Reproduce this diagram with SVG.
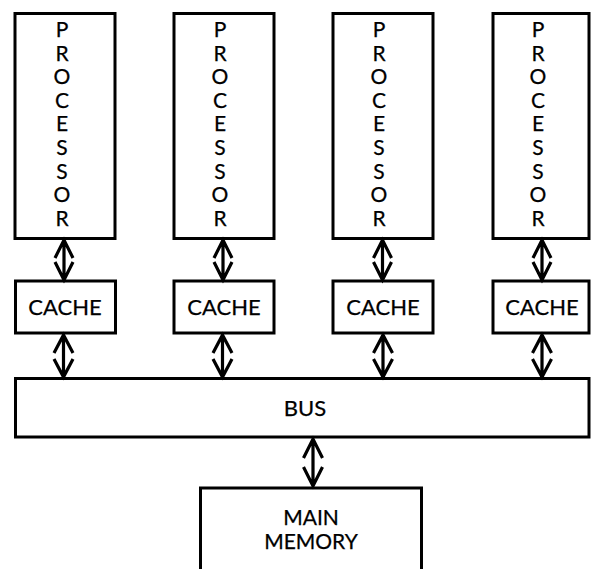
<svg xmlns="http://www.w3.org/2000/svg" width="591" height="569" viewBox="0 0 591 569">
  <defs>
    <style>
      .box { fill: #fff; stroke: #000; stroke-width: 3; }
      .lbl { font-family: Lato, "Liberation Sans", sans-serif; font-size: 22px; fill: #000; stroke: #000; stroke-width: 0.25; text-anchor: middle; }
      .mem { font-size: 21px; }
      .vl { font-family: Lato, "Liberation Sans", sans-serif; font-size: 21px; fill: #000; stroke: #000; stroke-width: 0.25; text-anchor: middle; }
      .link { fill: none; stroke: #000; stroke-width: 3.2; stroke-linejoin: miter; }
    </style>
  </defs>
  <rect width="591" height="569" fill="#fff"/>

  <!-- processors -->
  <g id="processor-1">
    <rect class="box" x="15" y="13.5" width="100" height="225"/>
    <text class="vl" x="62"><tspan x="62" y="37">P</tspan><tspan x="62" y="60.6">R</tspan><tspan x="62" y="84.2">O</tspan><tspan x="62" y="107.8">C</tspan><tspan x="62" y="131.4">E</tspan><tspan x="62" y="155">S</tspan><tspan x="62" y="178.6">S</tspan><tspan x="62" y="202.2">O</tspan><tspan x="62" y="225.8">R</tspan></text>
  </g>
  <g id="processor-2">
    <rect class="box" x="174" y="13.5" width="100" height="225"/>
    <text class="vl" x="220"><tspan x="220" y="37">P</tspan><tspan x="220" y="60.6">R</tspan><tspan x="220" y="84.2">O</tspan><tspan x="220" y="107.8">C</tspan><tspan x="220" y="131.4">E</tspan><tspan x="220" y="155">S</tspan><tspan x="220" y="178.6">S</tspan><tspan x="220" y="202.2">O</tspan><tspan x="220" y="225.8">R</tspan></text>
  </g>
  <g id="processor-3">
    <rect class="box" x="333" y="13.5" width="100" height="225"/>
    <text class="vl" x="379"><tspan x="379" y="37">P</tspan><tspan x="379" y="60.6">R</tspan><tspan x="379" y="84.2">O</tspan><tspan x="379" y="107.8">C</tspan><tspan x="379" y="131.4">E</tspan><tspan x="379" y="155">S</tspan><tspan x="379" y="178.6">S</tspan><tspan x="379" y="202.2">O</tspan><tspan x="379" y="225.8">R</tspan></text>
  </g>
  <g id="processor-4">
    <rect class="box" x="493" y="13.5" width="96" height="225"/>
    <text class="vl" x="538"><tspan x="538" y="37">P</tspan><tspan x="538" y="60.6">R</tspan><tspan x="538" y="84.2">O</tspan><tspan x="538" y="107.8">C</tspan><tspan x="538" y="131.4">E</tspan><tspan x="538" y="155">S</tspan><tspan x="538" y="178.6">S</tspan><tspan x="538" y="202.2">O</tspan><tspan x="538" y="225.8">R</tspan></text>
  </g>

  <!-- caches -->
  <g id="cache-1">
    <rect class="box" x="15.5" y="281" width="100" height="52"/>
    <text class="lbl" x="65" y="315">CACHE</text>
  </g>
  <g id="cache-2">
    <rect class="box" x="174" y="281" width="100" height="52"/>
    <text class="lbl" x="224" y="315">CACHE</text>
  </g>
  <g id="cache-3">
    <rect class="box" x="333" y="281" width="100" height="52"/>
    <text class="lbl" x="383" y="315">CACHE</text>
  </g>
  <g id="cache-4">
    <rect class="box" x="493" y="281" width="96" height="52"/>
    <text class="lbl" x="542" y="315">CACHE</text>
  </g>

  <!-- shared bus -->
  <g id="bus">
    <rect class="box" x="15.5" y="378.5" width="573.5" height="58.5"/>
    <text class="lbl" x="305" y="416">BUS</text>
  </g>

  <!-- main memory, running off the bottom edge -->
  <g id="main-memory">
    <path class="box" d="M200.5 572 V488 H421.5 V572"/>
    <text class="lbl mem" x="311" y="525">MAIN</text>
    <text class="lbl mem" x="311" y="548.5">MEMORY</text>
  </g>

  <!-- bidirectional links with open chevron heads -->
  <g id="connectors" class="link">
    <!-- processor to cache -->
    <path d="M64 240 V279 M55 258 L64 240 L73 258 M55 262 L64 280 L73 262"/>
    <path d="M223 240 V279 M214 258 L223 240 L232 258 M214 262 L223 280 L232 262"/>
    <path d="M382.5 240 V279 M373.5 258 L382.5 240 L391.5 258 M373.5 262 L382.5 280 L391.5 262"/>
    <path d="M542 240 V279 M533 258 L542 240 L551 258 M533 262 L542 280 L551 262"/>
    <!-- cache to bus -->
    <path d="M63.5 335 V377 M54 353 L63.5 335 L73 353 M54 359 L63.5 377 L73 359"/>
    <path d="M222.5 335 V377 M213 353 L222.5 335 L232 353 M213 359 L222.5 377 L232 359"/>
    <path d="M383 335 V377 M373.5 353 L383 335 L392.5 353 M373.5 359 L383 377 L392.5 359"/>
    <path d="M542 335 V377 M532.5 353 L542 335 L551.5 353 M532.5 359 L542 377 L551.5 359"/>
    <!-- bus to memory -->
    <path d="M313 439 V486 M303.5 458 L313 439 L322.5 458 M303.5 467 L313 486 L322.5 467"/>
  </g>
</svg>
